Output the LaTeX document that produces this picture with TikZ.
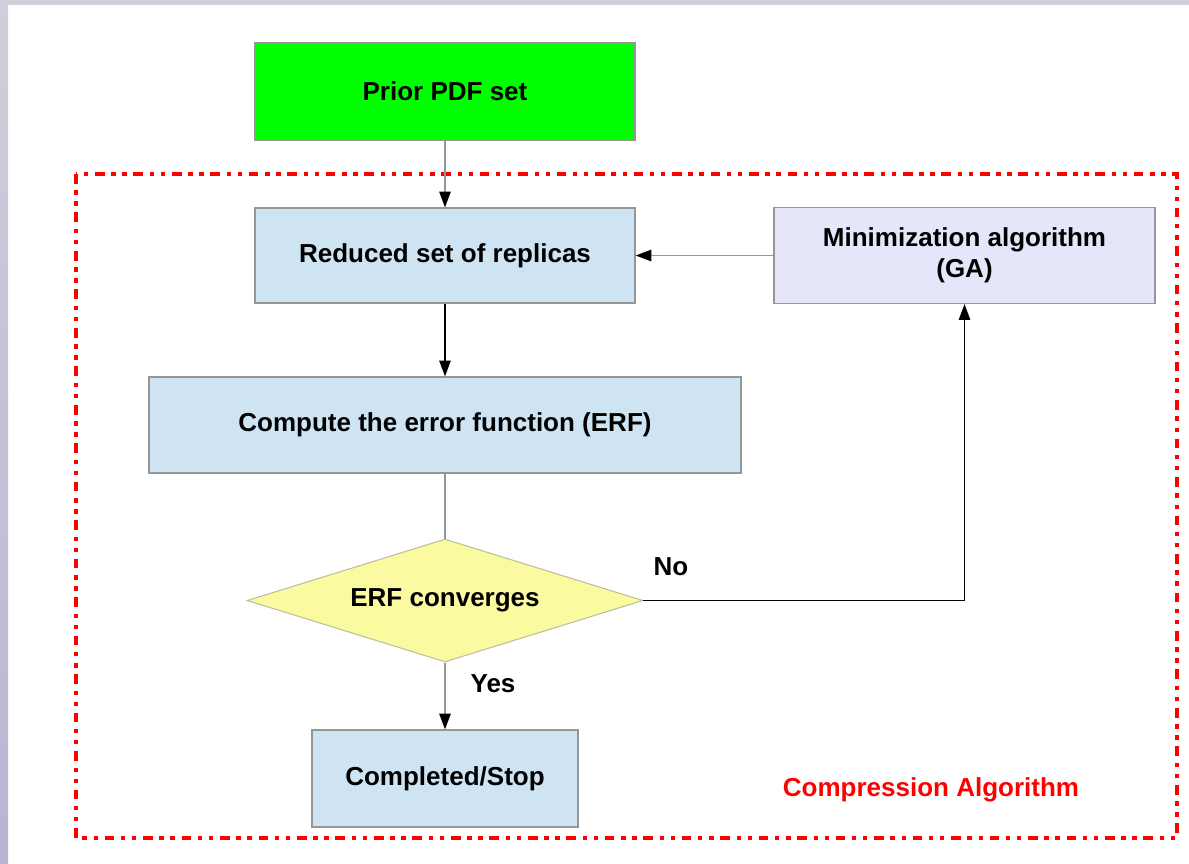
\documentclass[tikz,border=0pt]{standalone}
\usepackage{fontspec}
\setmainfont{Liberation Sans}
\usetikzlibrary{arrows.meta}
\usetikzlibrary{shapes.geometric}

\definecolor{boxblue}{RGB}{207,228,242}
\definecolor{boxviolet}{RGB}{230,230,250}
\definecolor{boxyellow}{RGB}{250,250,160}
\definecolor{boxgreen}{RGB}{0,255,0}
\definecolor{edgegray}{RGB}{150,150,150}
\definecolor{stripgray}{RGB}{207,207,218}
\definecolor{stripdark}{RGB}{182,182,212}

\tikzset{
  stepbox/.style={draw=edgegray, line width=0.7pt, inner sep=0pt, font=\fontsize{14.8}{17.5}\selectfont\bfseries, align=center},
  testbox/.style={diamond, draw=edgegray!60!boxyellow, fill=boxyellow, line width=0.6pt, inner sep=0pt, aspect=3.2, font=\fontsize{14.8}{17.5}\selectfont\bfseries},
  flow/.style={line width=0.9pt, -{Triangle[length=9pt,width=6.5pt,black]}},
  frame/.style={red, line width=1.8pt, dash pattern=on 5.5pt off 3.8pt on 2.5pt off 3.8pt on 2.5pt off 3.8pt},
  tag/.style={font=\fontsize{14.8}{17}\selectfont\bfseries}
}

\begin{document}
\begin{tikzpicture}[x=0.02cm, y=-0.02cm]

\useasboundingbox (0,0) rectangle (1189,863);

% grey strips at the edges
\shade[top color=stripgray, bottom color=stripdark] (0,0) rectangle (8,863);
\fill[stripgray] (0,0) rectangle (1189,5);

% boxes
\node[stepbox, fill=boxgreen, minimum width=7.6cm, minimum height=1.94cm] (prior) at (445,91.5) {Prior PDF set};
\node[stepbox, fill=boxblue, minimum width=7.6cm, minimum height=1.9cm] (reduced) at (445,255.5) {Reduced set of replicas};
\node[stepbox, fill=boxviolet, minimum width=7.62cm, minimum height=1.92cm] (minim) at (964.5,255.5) {Minimization algorithm\\(GA)};
\node[stepbox, fill=boxblue, minimum width=11.84cm, minimum height=1.92cm] (erf) at (445,425) {Compute the error function (ERF)};
\node[testbox, minimum width=7.92cm, minimum height=2.46cm] (conv) at (445,600.5) {ERF converges};
\node[stepbox, fill=boxblue, minimum width=5.32cm, minimum height=1.94cm] (stop) at (445,778.5) {Completed/Stop};

% dash dot dot frame
\coordinate (fr1) at (76,174);
\coordinate (fr2) at (1177,838);
\draw[frame] (fr1) rectangle (fr2);
\node[tag, red] (comp) at (931,790) {Compression Algorithm};

% connectors
\draw[flow, edgegray] (prior) -- (reduced);
\draw[flow] (reduced) -- (erf);
\draw[edgegray, line width=0.9pt] (erf) -- (conv);
\draw[flow, edgegray] (conv) -- (stop);
\draw[flow] (conv.east) -| (minim.south);
\draw[flow, edgegray] (minim) -- (reduced);

% answers
\node[tag] (no) at (671,567) {No};
\node[tag] (yes) at (493,684) {Yes};

\end{tikzpicture}
\end{document}
